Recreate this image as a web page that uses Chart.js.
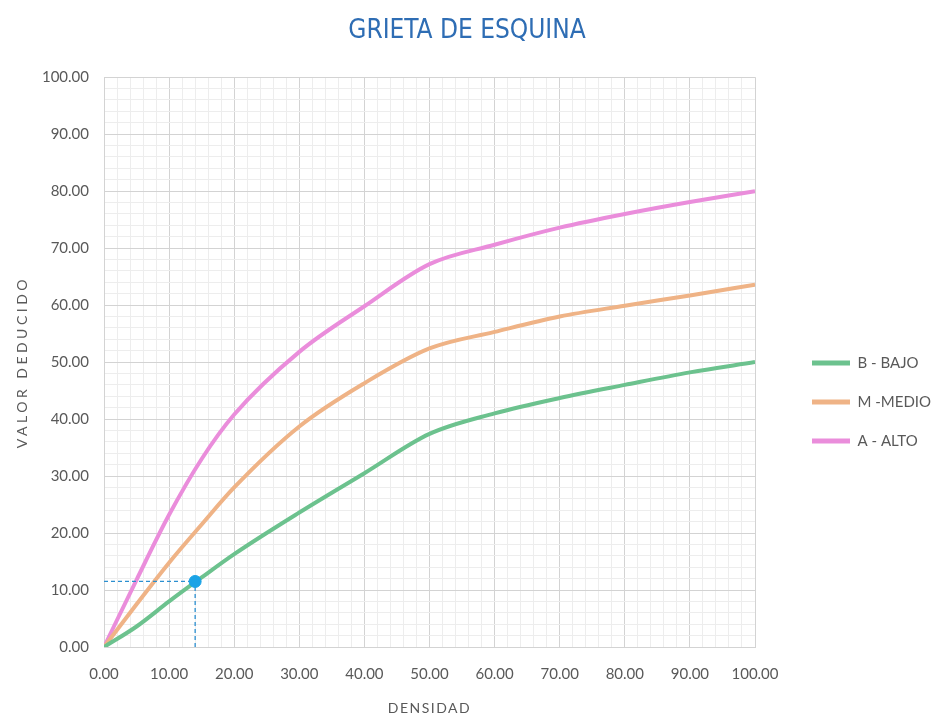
<!DOCTYPE html>
<html>
<head>
<meta charset="utf-8">
<title>Grieta de esquina</title>
<script src="https://cdn.jsdelivr.net/npm/chart.js@4.4.1/dist/chart.umd.min.js"></script>
<style>
    html, body { margin: 0; padding: 0; background: #ffffff; }
    #wrap { width: 934px; height: 722px; position: relative; }
</style>
</head>
<body>
<div id="wrap"><canvas id="grieta"></canvas></div>
<script>
// Data
const densidad = [0, 5, 10, 15, 20, 30, 40, 50, 60, 70, 80, 90, 100];
const bajo = [0, 3.6, 8.0, 12.2, 16.3, 23.6, 30.5, 37.4, 41.0, 43.7, 46.0, 48.2, 50.0];
const medio = [0, 7.5, 14.8, 21.5, 28.0, 38.7, 46.3, 52.4, 55.3, 58.0, 59.9, 61.7, 63.6];
const alto = [0, 11.8, 23.2, 33.0, 40.8, 51.8, 59.8, 67.2, 70.6, 73.6, 76.0, 78.1, 80.0];
const seriesLabels = ['B - BAJO', 'M -MEDIO', 'A - ALTO'];

// Reading point marked on the chart
const puntoX = 14;
const puntoY = 11.5;

const grey = '#595959';
const tickFont = { family: 'Lato, "Open Sans", sans-serif', size: 15 };

const toPoints = (ys) => densidad.map((x, i) => ({ x: x, y: ys[i] }));

const serie = (label, ys, color) => ({
    label: label,
    data: toPoints(ys),
    borderColor: color,
    backgroundColor: color,
    borderWidth: 4,
    pointRadius: 0,
    cubicInterpolationMode: 'monotone',
    order: 2
});

// Axis titles drawn by hand so they can get the spaced lettering
const axisTitles = {
    id: 'axisTitles',
    afterDraw(chart) {
        const ctx = chart.ctx;
        const area = chart.chartArea;
        ctx.save();
        ctx.fillStyle = grey;
        ctx.font = '14px Lato, "Open Sans", sans-serif';
        ctx.textAlign = 'center';
        ctx.textBaseline = 'middle';
        ctx.letterSpacing = '1.5px';
        ctx.fillText('DENSIDAD', (area.left + area.right) / 2, 708);
        ctx.translate(22, (area.top + area.bottom) / 2);
        ctx.rotate(-Math.PI / 2);
        ctx.letterSpacing = '3.5px';
        ctx.fillText('VALOR DEDUCIDO', 0, 0);
        ctx.restore();
    }
};

// Fixed width for the right-hand legend, then nudge it where the original sits
const legendPlace = {
    id: 'legendPlace',
    beforeLayout(chart) {
        const lg = chart.legend;
        if (lg && !lg._fixed) {
            const fit = lg.fit.bind(lg);
            lg.fit = function () {
                fit();
                this.width = 179;
            };
            lg._fixed = true;
        }
    },
    afterLayout(chart) {
        const lg = chart.legend;
        if (lg) {
            lg.left += 33;
            lg.right += 33;
            lg.top += 41;
            lg.bottom += 41;
        }
    }
};

const chartdata = {
    datasets: [
        serie(seriesLabels[0], bajo, '#6cc28e'),
        serie(seriesLabels[1], medio, '#efb386'),
        serie(seriesLabels[2], alto, '#ea8ddb'),
        {
            label: 'guia-h',
            data: [{ x: 0, y: puntoY }, { x: puntoX, y: puntoY }],
            borderColor: '#2b8fd0',
            borderWidth: 1.3,
            borderDash: [4, 3],
            pointRadius: 0,
            order: 1
        },
        {
            label: 'guia-v',
            data: [{ x: puntoX, y: 0 }, { x: puntoX, y: puntoY }],
            borderColor: '#2b8fd0',
            borderWidth: 1.3,
            borderDash: [4, 3],
            pointRadius: 0,
            order: 1
        },
        {
            label: 'punto',
            data: [{ x: puntoX, y: puntoY }],
            showLine: false,
            pointRadius: 6,
            pointBackgroundColor: '#1ba3e6',
            pointBorderColor: '#1ba3e6',
            order: 0
        }
    ]
};

const gridColor = (ctx) => (ctx.tick && ctx.tick.value % 10 === 0) ? '#d3d3d3' : '#ededed';
const tickLabel = (v) => (v % 10 === 0 ? Number(v).toFixed(2) : '');

const chartconfig = {
    type: 'line',
    data: chartdata,
    options: {
        responsive: true,
        maintainAspectRatio: false,
        animation: false,
        layout: { padding: { left: 0, right: 0, top: 0, bottom: 0 } },
        plugins: {
            title: {
                display: true,
                text: 'GRIETA DE ESQUINA',
                color: '#2e6db4',
                font: { family: '"DejaVu Sans Condensed", "Liberation Sans Narrow", sans-serif', size: 26, weight: 'normal' },
                padding: { top: 16, bottom: 30 }
            },
            legend: {
                position: 'right',
                align: 'center',
                labels: {
                    // only the three curves, drawn as flat bars
                    filter: (item) => {
                        item.lineWidth = 0;
                        return item.datasetIndex < 3;
                    },
                    color: grey,
                    font: { family: 'Lato, "Open Sans", sans-serif', size: 15 },
                    boxWidth: 38,
                    boxHeight: 5,
                    padding: 24
                }
            },
            tooltip: { enabled: false }
        },
        scales: {
            x: {
                type: 'linear',
                min: 0,
                max: 100,
                afterFit: (scale) => { scale.height = 75; },
                ticks: {
                    stepSize: 2,
                    autoSkip: false,
                    maxRotation: 0,
                    padding: 18,
                    color: grey,
                    font: tickFont,
                    callback: tickLabel
                },
                grid: { color: gridColor, drawTicks: false },
                border: { color: '#d3d3d3' }
            },
            y: {
                min: 0,
                max: 100,
                afterFit: (scale) => { scale.width = 104; },
                ticks: {
                    stepSize: 2,
                    autoSkip: false,
                    padding: 15,
                    color: grey,
                    font: tickFont,
                    callback: tickLabel
                },
                grid: { color: gridColor, drawTicks: false },
                border: { color: '#d3d3d3' }
            }
        }
    },
    plugins: [axisTitles, legendPlace]
};

const canvas = document.getElementById('grieta');
if (canvas) {
    const chart = new Chart(canvas, chartconfig);
}
</script>
</body>
</html>
